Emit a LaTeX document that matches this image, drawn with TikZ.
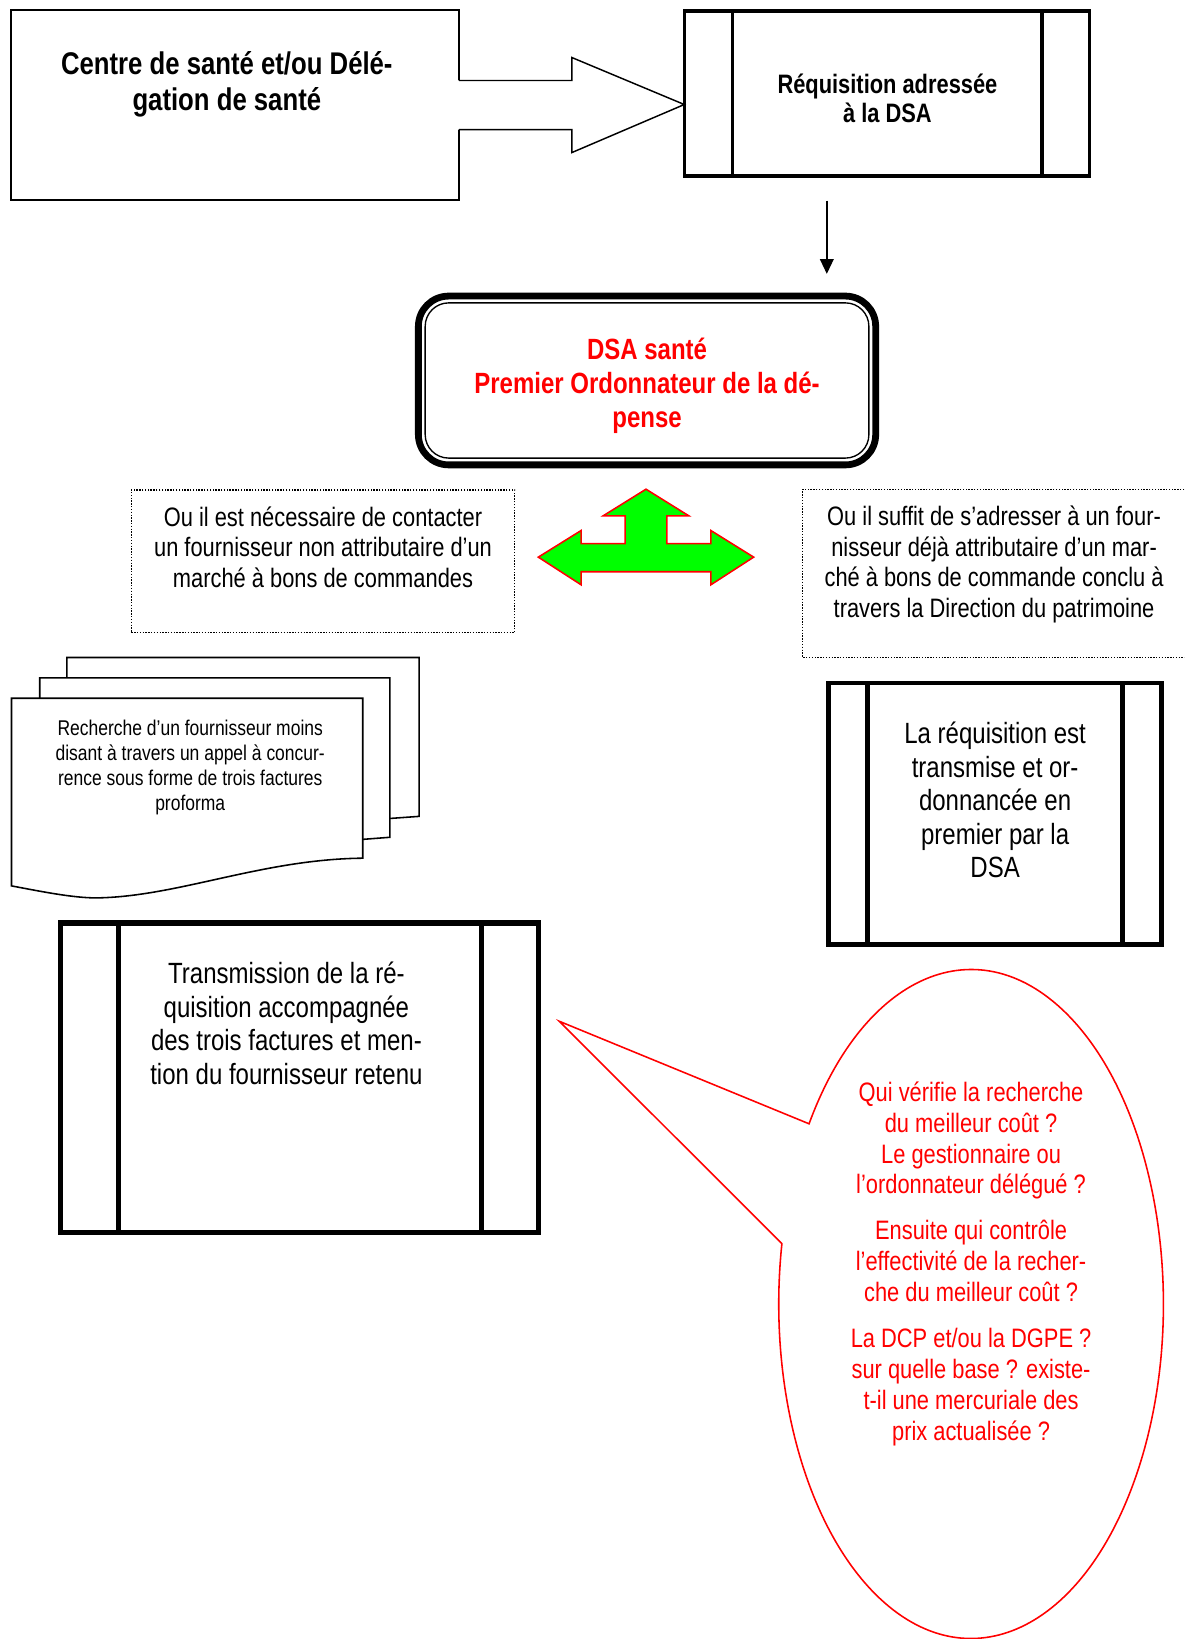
\documentclass[tikz,border=0pt]{standalone}
\usepackage{fontspec}
\setmainfont[FakeStretch=0.82]{Liberation Sans}
\usetikzlibrary{arrows.meta,calc}
\definecolor{vivred}{RGB}{255,0,0}
\definecolor{vivgreen}{RGB}{0,255,0}

\tikzset{
  thinbox/.style={draw, line width=1.5pt, fill=white},
  procbox/.style={draw, line width=#1, fill=white},
  dotbox/.style={draw, line width=1.3pt, dash pattern=on 1.3pt off 1.4pt},
  txt/.style={align=center, inner sep=0pt},
  headA/.style={font=\bfseries\fontsize{30pt}{35pt}\selectfont},
  headB/.style={font=\bfseries\fontsize{25.5pt}{28.5pt}\selectfont},
  headC/.style={font=\bfseries\fontsize{28pt}{32.5pt}\selectfont, text=vivred},
  bodyA/.style={font=\fontsize{25.5pt}{29.3pt}\selectfont},
  bodyB/.style={font=\fontsize{28pt}{32pt}\selectfont},
  bodyS/.style={font=\fontsize{20.4pt}{24pt}\selectfont},
  bodyR/.style={font=\fontsize{25.5pt}{29.5pt}\selectfont, text=vivred},
}

\begin{document}
\begin{tikzpicture}[x=1pt, y=-1pt, every node/.style={inner sep=0pt, outer sep=0pt}]
\useasboundingbox (0,0) rectangle (1133,1568);

% --- origin: health centre / delegation
\node[thinbox, minimum width=428.5pt, minimum height=181.5pt] (centre) at (225,100.5) {};
\node[txt, headA] (centreText) at (217,80.5) {Centre de santé et/ou Délé-\\gation de santé};

% --- requisition box
\node[procbox=3.3pt, minimum width=387.7pt, minimum height=157.7pt] (req) at (848.5,89.5) {};
\draw[line width=3.3pt] (req.north -| 701,0) -- (req.south -| 701,0);
\draw[line width=3.3pt] (req.north -| 997,0) -- (req.south -| 997,0);
\node[txt, headB] (reqText) at (849,94) {Réquisition adressée\\à la DSA};

% --- block arrow from the centre to the requisition
\path (req.west) ++(0,10.5) coordinate (tipA);
\fill[white] ([xshift=-1.5pt]centre.east |- 0,77) -- (547,77) -- (547,55) -- (tipA)
  -- (547,146) -- (547,124) -- ([xshift=-1.5pt]centre.east |- 0,124) -- cycle;
\draw[line width=1.4pt, line join=miter] (centre.east |- 0,77) -- (547,77) -- (547,55) -- (tipA)
  -- (547,146) -- (547,124) -- (centre.east |- 0,124);

% --- small arrow down to the DSA
\coordinate (downA) at (791,192);
\coordinate (downB) at (791,262);
\draw[line width=1.3pt, -{Triangle[length=14pt,width=13pt]}] (downA) -- (downB);

% --- DSA box with double rounded border
\node[draw, line width=6.5pt, rounded corners=29pt, fill=white,
      minimum width=437.5pt, minimum height=161.5pt] (dsa) at (619,364) {};
\draw[line width=1.3pt, rounded corners=22.5pt]
  ($(dsa.north west)+(6.5,6.5)$) rectangle ($(dsa.south east)+(-6.5,-6.5)$);
\node[txt, headC] (dsaText) at (619,369) {DSA santé\\Premier Ordonnateur de la dé-\\pense};

% --- the two options
\node[dotbox, minimum width=366.7pt, minimum height=136.7pt] (optL) at (309,537) {};
\node[txt, bodyA] (optLText) at (309,523.5) {Ou il est nécessaire de contacter\\un fournisseur non attributaire d’un\\marché à bons de commandes};

\coordinate (optRnw) at (768,468);
\coordinate (optRsw) at (768,629);
\draw[line width=1.3pt, dash pattern=on 1.3pt off 1.4pt]
  (optRnw -| 1133,0) -- (optRnw) -- (optRsw) -- (optRsw -| 1133,0);
\node[txt, bodyA] (optRText) at (951,540) {Ou il suffit de s’adresser à un four-\\nisseur déjà attributaire d’un mar-\\ché à bons de commande conclu à\\travers la Direction du patrimoine};

% --- three-way green arrow
\coordinate (fork) at (618,533);
\draw[fill=vivgreen, draw=vivred, line width=1.5pt, line join=miter]
  (515,533) -- (556,507.5) -- (556,520) -- (598,520) -- (598,493.5) -- (577,493.5)
  -- (618,468) -- (659,493.5) -- (638,493.5) -- (638,520) -- (680,520) -- (680,507.5)
  -- (721,533) -- (680,559.5) -- (680,547) -- (556,547) -- (556,559.5) -- cycle;

% --- stack of documents
\draw[line width=1.5pt, fill=white, line join=miter]
  (64,629) -- (401,629) -- (401,781) -- (373,783) -- (64,785) -- cycle;
\draw[line width=1.5pt, fill=white, line join=miter]
  (38,648.5) -- (373,648.5) -- (373,801) -- (347,803) -- (38,805) -- cycle;
\draw[line width=1.5pt, fill=white, line join=miter]
  (11,668) -- (347,668) -- (347,821)
  .. controls (250,822) and (170,858) .. (92,859)
  .. controls (70,859) and (40,853) .. (11,847.5) -- cycle;
\node[txt, bodyS] (docText) at (182,734) {Recherche d’un fournisseur moins\\disant à travers un appel à concur-\\rence sous forme de trois factures\\proforma};

% --- requisition ordered by the DSA
\node[procbox=4.5pt, minimum width=319pt, minimum height=250pt] (ord) at (952,778.5) {};
\draw[line width=4.5pt] (ord.north -| 830,0) -- (ord.south -| 830,0);
\draw[line width=4.5pt] (ord.north -| 1074,0) -- (ord.south -| 1074,0);
\node[txt, bodyB] (ordText) at (952,765.5) {La réquisition est\\transmise et or-\\donnancée en\\premier par la\\DSA};

% --- transmission with the three invoices
\node[procbox=5pt, minimum width=457pt, minimum height=296pt] (trans) at (286.5,1031) {};
\draw[line width=5pt] (trans.north -| 113,0) -- (trans.south -| 113,0);
\draw[line width=5pt] (trans.north -| 461,0) -- (trans.south -| 461,0);
\node[txt, bodyB] (transText) at (274,979) {Transmission de la ré-\\quisition accompagnée\\des trois factures et men-\\tion du fournisseur retenu};

% --- speech bubble with the open questions
\coordinate (bub) at (929,1247.5);
\coordinate (bubTip) at (535,977);
\draw[draw=vivred, line width=1.5pt, line join=miter]
  (bubTip) -- ($(bub)+(147.4:184pt and 320pt)$)
  arc[start angle=147.4, end angle=-190.4, x radius=184pt, y radius=320pt] -- cycle;
\node[txt, bodyR] (bubText) at (929,1209) {Qui vérifie la recherche\\du meilleur coût ?\\Le gestionnaire ou\\l’ordonnateur délégué ?\\[14.5pt]Ensuite qui contrôle\\l’effectivité de la recher-\\che du meilleur coût ?\\[14.5pt]La DCP et/ou la DGPE ?\\sur quelle base ? existe-\\t-il une mercuriale des\\prix actualisée ?};
\end{tikzpicture}
\end{document}
